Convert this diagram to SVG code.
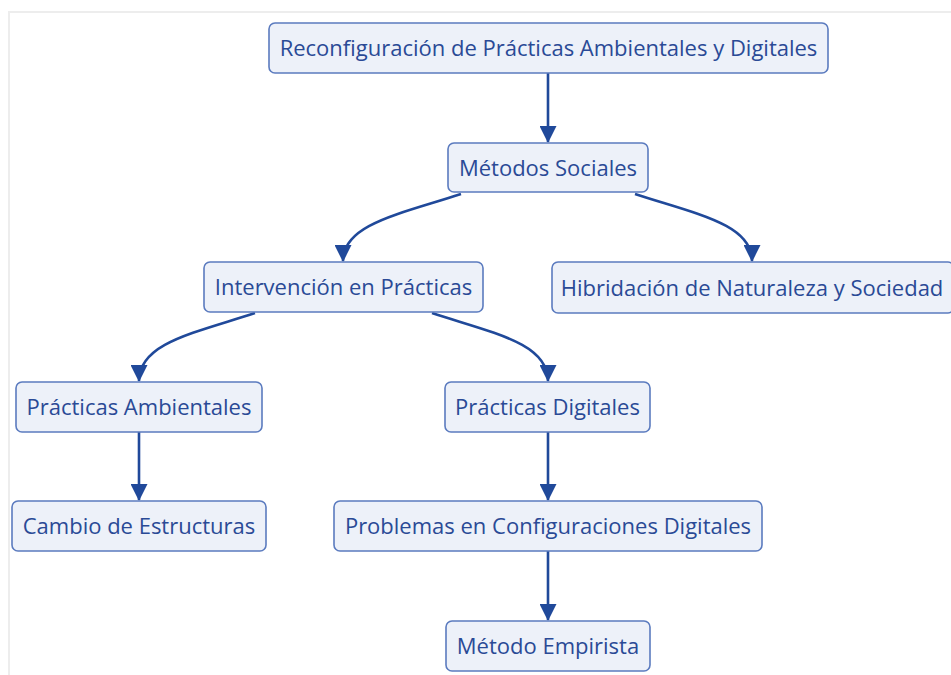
<svg xmlns="http://www.w3.org/2000/svg" width="951" height="675" viewBox="0 0 951 675">
<style>
.frame{fill:none;stroke:#ededed;stroke-width:2}
.box{fill:#edf1f9;stroke:#5b7bbf;stroke-width:1.6}
.lbl{font-family:"Open Sans","Noto Sans",sans-serif;font-size:22px;fill:#2a4a96;text-anchor:middle}
.edge{fill:none;stroke:#20499a;stroke-width:2.6}
</style>
<defs>
<marker id="arr" viewBox="0 0 16 16" refX="15" refY="8" markerWidth="17" markerHeight="17" markerUnits="userSpaceOnUse" orient="auto">
<path d="M0,0 L16,8 L0,16 Z" fill="#20499a"/>
</marker>
</defs>
<rect width="951" height="675" fill="#ffffff"/>
<path class="frame" d="M9,675 L9,12 L951,12"/>
<g id="connectors">
<path class="edge" marker-end="url(#arr)" d="M548,73 L548,142"/>
<path class="edge" marker-end="url(#arr)" d="M461,194 C400,214 343,224 343,261"/>
<path class="edge" marker-end="url(#arr)" d="M635,194 C696,214 752,224 752,261"/>
<path class="edge" marker-end="url(#arr)" d="M255,313 C194,333 139,343 139,381"/>
<path class="edge" marker-end="url(#arr)" d="M432,313 C493,333 548,343 548,381"/>
<path class="edge" marker-end="url(#arr)" d="M139,432 L139,500"/>
<path class="edge" marker-end="url(#arr)" d="M548,432 L548,500"/>
<path class="edge" marker-end="url(#arr)" d="M548,551 L548,620"/>
</g>
<g id="n1"><rect class="box" x="269" y="23" width="559" height="50" rx="6"/><text class="lbl" x="548.5" y="56">Reconfiguración de Prácticas Ambientales y Digitales</text></g>
<g id="n2"><rect class="box" x="448" y="143" width="200" height="49" rx="6"/><text class="lbl" x="548" y="175.5">Métodos Sociales</text></g>
<g id="n3"><rect class="box" x="204" y="262" width="279" height="50" rx="6"/><text class="lbl" x="343.5" y="295">Intervención en Prácticas</text></g>
<g id="n4"><rect class="box" x="552" y="262" width="402" height="51" rx="6"/><text class="lbl" x="752" y="295.5">Hibridación de Naturaleza y Sociedad</text></g>
<g id="n5"><rect class="box" x="16" y="382" width="246" height="50" rx="6"/><text class="lbl" x="139" y="415">Prácticas Ambientales</text></g>
<g id="n6"><rect class="box" x="445" y="382" width="205" height="50" rx="6"/><text class="lbl" x="547.5" y="415">Prácticas Digitales</text></g>
<g id="n7"><rect class="box" x="12" y="501" width="254" height="50" rx="6"/><text class="lbl" x="139" y="534">Cambio de Estructuras</text></g>
<g id="n8"><rect class="box" x="334" y="501" width="428" height="50" rx="6"/><text class="lbl" x="548" y="534">Problemas en Configuraciones Digitales</text></g>
<g id="n9"><rect class="box" x="446" y="621" width="204" height="50" rx="6"/><text class="lbl" x="548" y="654">Método Empirista</text></g>
</svg>
